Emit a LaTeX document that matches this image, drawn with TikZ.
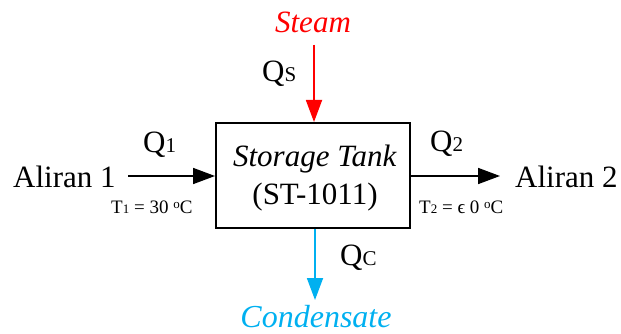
\documentclass[tikz,border=0pt]{standalone}
\usepackage{fontspec}
\setmainfont{Liberation Serif}
\usetikzlibrary{arrows.meta}
\definecolor{steamred}{RGB}{255,0,0}
\definecolor{condblue}{RGB}{0,176,240}
\newcommand{\subsz}{\fontsize{21}{21}\selectfont}
\newcommand{\tsub}{\fontsize{13}{13}\selectfont}
\begin{document}
\begin{tikzpicture}[x=1pt,y=-1pt,
  big/.style={font=\fontsize{31}{34}\selectfont, inner sep=0pt},
  small/.style={font=\fontsize{19}{21}\selectfont, inner sep=0pt},
  flow/.style={line width=1.8pt, -{Triangle[length=22pt,width=16pt]}},
  tankbox/.style={draw, line width=2pt, minimum width=194pt, minimum height=105pt, inner sep=0pt}]
\useasboundingbox (0,0) rectangle (621,334);
\node[tankbox] (tank) at (313,175.5) {};
\node[big, anchor=base] (tname) at (315,167) {\textit{Storage Tank}};
\node[big, anchor=base] (tid) at (315,204) {(ST-1011)};
\node[big, anchor=base west] (a1) at (13,187) {Aliran 1};
\node[big, anchor=base west] (a2) at (515,187) {Aliran 2};
\node[big, anchor=base, text=steamred] (steam) at (313,33) {\textit{Steam}};
\node[big, anchor=base, text=condblue, font=\fontsize{32}{34}\selectfont] (cond) at (316,327) {\textit{Condensate}};
\coordinate (inS) at (128,176);
\coordinate (outE) at (500,176);
\coordinate (stT) at (314,45);
\coordinate (cdB) at (315,300);
\draw[flow] (inS) -- (tank.west |- inS);
\draw[flow] (tank.east |- outE) -- (outE);
\draw[flow, draw=steamred, fill=steamred] (stT) -- (stT |- tank.north);
\draw[flow, draw=condblue, fill=condblue] (cdB |- tank.south) -- (cdB);
\node[big, anchor=base west] (q1) at (143,153) {Q{\subsz 1}};
\node[big, anchor=base west] (q2) at (430,152) {Q{\subsz 2}};
\node[big, anchor=base west] (qs) at (262,82) {Q{\subsz S}};
\node[big, anchor=base west] (qc) at (340,265) {Q{\subsz C}};
\node[small, anchor=base west] (t1) at (111,213) {T{\tsub 1} = 30 \raisebox{5pt}{\tsub o}C};
\node[small, anchor=base west] (t2) at (419,213) {T{\tsub 2} = ϵ 0 \raisebox{5pt}{\tsub o}C};
\end{tikzpicture}
\end{document}
